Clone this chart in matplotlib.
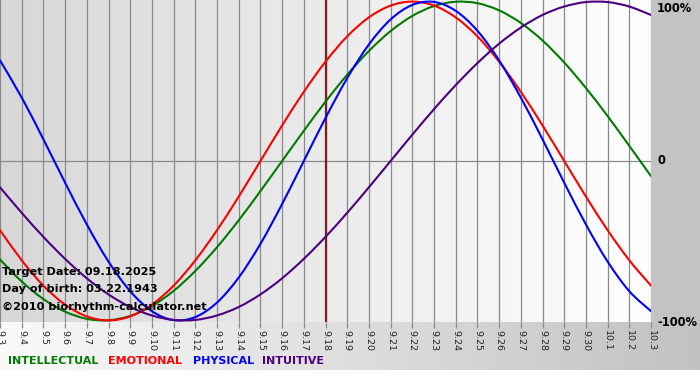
import numpy as np
import matplotlib
matplotlib.use("Agg")
import matplotlib.pyplot as plt
from matplotlib.path import Path
from matplotlib.patches import PathPatch

# ── Data (daily values, 09.03 .. 10.03) ─────────────────────
days = ["9.3", "9.4", "9.5", "9.6", "9.7", "9.8", "9.9", "9.10", "9.11", "9.12",
        "9.13", "9.14", "9.15", "9.16", "9.17", "9.18", "9.19", "9.20", "9.21",
        "9.22", "9.23", "9.24", "9.25", "9.26", "9.27", "9.28", "9.29", "9.30",
        "10.1", "10.2", "10.3"]

physical = [0.631, 0.398, 0.136, -0.136, -0.398, -0.631, -0.817, -0.942, -0.998,
            -0.979, -0.888, -0.731, -0.520, -0.270, 0.0, 0.270, 0.520, 0.731,
            0.888, 0.979, 0.998, 0.942, 0.817, 0.631, 0.398, 0.136, -0.136,
            -0.398, -0.631, -0.817, -0.942]

emotional = [-0.434, -0.623, -0.782, -0.901, -0.975, -1.0, -0.975, -0.901,
             -0.782, -0.623, -0.434, -0.223, 0.0, 0.223, 0.434, 0.623, 0.782,
             0.901, 0.975, 1.0, 0.975, 0.901, 0.782, 0.623, 0.434, 0.223, 0.0,
             -0.223, -0.434, -0.623, -0.782]

intellectual = [-0.618, -0.756, -0.866, -0.945, -0.990, -0.999, -0.972, -0.910,
                -0.815, -0.690, -0.541, -0.372, -0.189, 0.0, 0.189, 0.372, 0.541,
                0.690, 0.815, 0.910, 0.972, 0.999, 0.990, 0.945, 0.866, 0.756,
                0.618, 0.458, 0.282, 0.095, -0.095]

intuitive = [-0.165, -0.325, -0.476, -0.614, -0.736, -0.837, -0.916, -0.969,
             -0.997, -0.997, -0.969, -0.916, -0.837, -0.736, -0.614, -0.476,
             -0.325, -0.165, 0.0, 0.165, 0.325, 0.476, 0.614, 0.736, 0.837,
             0.916, 0.969, 0.997, 0.997, 0.969, 0.916]

target_idx = 15
series = [
    ("INTELLECTUAL", intellectual, "#007a00"),
    ("EMOTIONAL", emotional, "#ff0000"),
    ("PHYSICAL", physical, "#0000ff"),
    ("INTUITIVE", intuitive, "#4b0082"),
]


def smooth_path(xs, ys):
    # cubic bezier through the points (Catmull-Rom tangents) for a smooth line
    xs = np.asarray(xs, float)
    ys = np.asarray(ys, float)
    verts = [(xs[0], ys[0])]
    codes = [Path.MOVETO]
    n = len(xs)
    for i in range(n - 1):
        i0, i3 = max(i - 1, 0), min(i + 2, n - 1)
        c1 = (xs[i] + (xs[i + 1] - xs[i0]) / 6, ys[i] + (ys[i + 1] - ys[i0]) / 6)
        c2 = (xs[i + 1] - (xs[i3] - xs[i]) / 6, ys[i + 1] - (ys[i3] - ys[i]) / 6)
        verts += [c1, c2, (xs[i + 1], ys[i + 1])]
        codes += [Path.CURVE4] * 3
    return Path(verts, codes)


# ── Figure / background ─────────────────────────────────────
W, H = 700, 380
fig = plt.figure(figsize=(W / 100, H / 100), dpi=100)

px_r, px_b = 651, 322
bg = np.ones((H, W))
bg[:335, px_r:] = 0.765
band = np.linspace(0.98, 0.76, W)[None, :]
bg[px_b:370, :] = np.minimum(bg[px_b:370, :], band)
bg[:px_b, :px_r] = np.linspace(0.845, 1.0, px_r)[None, :]
ax_bg = fig.add_axes([0, 0, 1, 1])
ax_bg.imshow(np.dstack([bg] * 3), aspect="auto", interpolation="nearest")
ax_bg.axis("off")

# ── Plot ────────────────────────────────────────────────────
ax = fig.add_axes([0, 1 - px_b / H, px_r / W, px_b / H])
ax.patch.set_alpha(0)
x = np.arange(len(days))
for xi in x:
    ax.axvline(xi, color="#8a8a8a", lw=0.9, zorder=1)
ax.axhline(0, color="#8a8a8a", lw=0.9, zorder=1)
ax.axvline(target_idx, color="#7e1e1e", lw=1.6, zorder=3)

for name, vals, col in series:
    ax.add_patch(PathPatch(smooth_path(x, vals), fill=False, edgecolor=col,
                           lw=1.5, zorder=4, capstyle="round"))

ax.set_xlim(0, len(days) - 1)
ax.set_ylim(-1.01, 1.01)
ax.set_yticks([])
ax.set_xticks(x)
ax.set_xticklabels(days, rotation=270, fontsize=6.8, color="#222222")
ax.tick_params(axis="x", length=4, width=0.9, color="#8a8a8a", pad=1.5)
for s in ax.spines.values():
    s.set_visible(False)

# right-hand scale labels
for ypx, lab in [(8, "100%"), (161, "0"), (322, "-100%")]:
    fig.text(657 / W, 1 - ypx / H, lab, fontsize=8.3, fontweight="bold",
             va="center", ha="left")

# info text
info = ["Target Date: 09.18.2025", "Day of birth: 03.22.1943",
        "\u00a92010 biorhythm-calculator.net"]
for i, t in enumerate(info):
    fig.text(2 / W, 1 - (272 + 17.5 * i) / H, t, fontsize=8.1,
             fontweight="bold", va="center", ha="left", zorder=10)

# legend words
leg_x = [8, 108, 193, 262]
for (name, _, col), lx in zip(series, leg_x):
    fig.text(lx / W, 1 - 361 / H, name, color=col, fontsize=8.0,
             fontweight="bold", va="center", ha="left")

fig.savefig("out.png", dpi=100)
